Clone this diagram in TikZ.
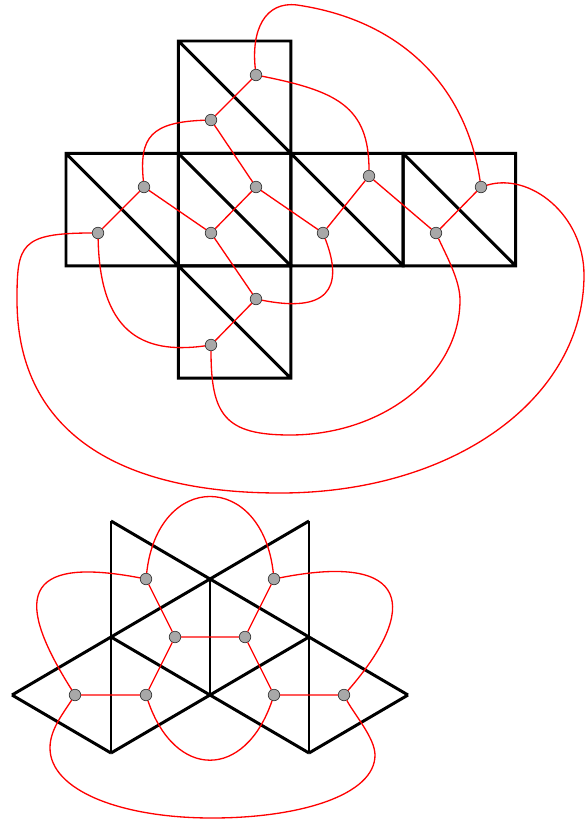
\documentclass[tikz,border=0pt]{standalone}
\usepackage{tikz}
\definecolor{DualRed}{HTML}{FF0000}
\definecolor{DualFill}{HTML}{A8A8A8}
\definecolor{DualRim}{HTML}{3A3A3A}

\begin{document}
\begin{tikzpicture}[
  x=0.02cm,y=-0.02cm,
  net/.style={draw=black,line width=1.7pt,line join=miter},
  dual/.style={draw=DualRed,line width=0.75pt},
  dv/.style={circle,fill=DualFill,draw=DualRim,line width=0.4pt,inner sep=0pt,minimum size=2.3mm}
]
\useasboundingbox (0,0) rectangle (586,822);

% cube net, every face cut along its diagonal
\foreach \x/\y in {178.4/41,66/153.4,178.4/153.4,290.8/153.4,403.2/153.4,178.4/265.8}
  \draw[net] (\x,\y) rectangle ++(112.4,112.4) (\x,\y) -- ++(112.4,112.4);

\node[dv] (t1) at (256,75) {};
\node[dv] (t2) at (211,120) {};
\node[dv] (a1) at (144,187) {};
\node[dv] (a2) at (98,233) {};
\node[dv] (b1) at (256,187) {};
\node[dv] (b2) at (211,233) {};
\node[dv] (c1) at (369,176) {};
\node[dv] (c2) at (323,233) {};
\node[dv] (d1) at (481,187) {};
\node[dv] (d2) at (436,233) {};
\node[dv] (e1) at (256,299) {};
\node[dv] (e2) at (211,345) {};

\draw[dual] (t1) -- (t2) (a1) -- (a2) (b1) -- (b2) (c1) -- (c2) (d1) -- (d2) (e1) -- (e2);
\draw[dual] (t2) -- (b1) (a1) -- (b2) (b1) -- (c2) (c1) -- (d2) (b2) -- (e1);
\draw[dual] (t1) .. controls (251,30) and (265,1) .. (297,5) .. controls (400,20) and (466,85) .. (d1);
\draw[dual] (t1) .. controls (336,91) and (369,106) .. (c1);
\draw[dual] (t2) .. controls (151,122) and (139,137) .. (a1);
\draw[dual] (a2) .. controls (20,233) and (17,245) .. (17,300)
  .. controls (17,425) and (109,493) .. (280,493)
  .. controls (453,493) and (584,399) .. (584,275)
  .. controls (584,215) and (530,172) .. (d1);
\draw[dual] (a2) .. controls (100,330) and (140,355) .. (e2);
\draw[dual] (e1) .. controls (326,313) and (345,290) .. (c2);
\draw[dual] (e2) .. controls (211,415) and (225,435) .. (290,435)
  .. controls (384,435) and (460,374) .. (460,300)
  .. controls (460,280) and (446,255) .. (d2);

% octahedron net
\draw[net] (111,521) -- (111,753) (309,521) -- (309,753) (210,579) -- (210,695);
\draw[net] (111,521) -- (408,695) (309,521) -- (12,695);
\draw[net] (111,637) -- (309,753) (309,637) -- (111,753);
\draw[net] (12,695) -- (111,753) (408,695) -- (309,753);

\node[dv] (n1) at (146,579) {};
\node[dv] (n2) at (274,579) {};
\node[dv] (n3) at (175,637) {};
\node[dv] (n4) at (245,637) {};
\node[dv] (n5) at (75,695) {};
\node[dv] (n6) at (146,695) {};
\node[dv] (n7) at (274,695) {};
\node[dv] (n8) at (344,695) {};

\draw[dual] (n1) -- (n3) (n2) -- (n4) (n3) -- (n4) (n3) -- (n6) (n4) -- (n7) (n5) -- (n6) (n7) -- (n8);
\draw[dual] (n1) .. controls (158,471) and (262,471) .. (n2);
\draw[dual] (n1) .. controls (20,555) and (15,600) .. (n5);
\draw[dual] (n2) .. controls (410,552) and (420,608) .. (n8);
\draw[dual] (n5) .. controls (62,715) and (50,730) .. (50,748)
  .. controls (50,790) and (120,818) .. (212,818)
  .. controls (300,818) and (375,795) .. (375,755)
  .. controls (375,738) and (354,714) .. (n8);
\draw[dual] (n6) .. controls (175,780) and (245,780) .. (n7);
\end{tikzpicture}
\end{document}
